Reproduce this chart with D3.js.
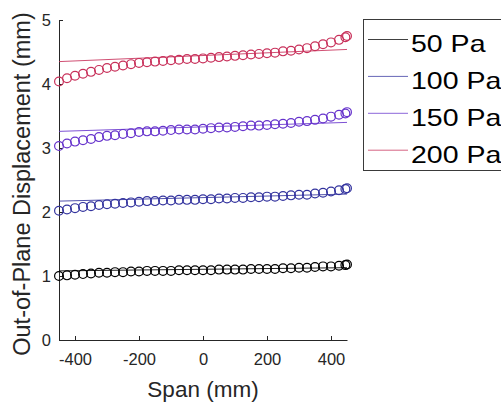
<!DOCTYPE html>
<html>
<head>
<meta charset="utf-8">
<script src="https://cdn.jsdelivr.net/npm/d3@7"></script>
<style>
  html, body { margin: 0; padding: 0; background: #fff; overflow: hidden; }
  svg { display: block; font-family: "Liberation Sans", Arial, sans-serif; }
</style>
</head>
<body>
<svg id="chart" width="501" height="407"></svg>
<script>
// ---- data ----
const spanMm = [-450,-425,-400,-375,-350,-325,-300,-275,-250,-225,-200,-175,-150,-125,-100,-75,-50,-25,0,25,50,75,100,125,150,175,200,225,250,275,300,325,350,375,400,425,445,450];

const seriesNames = ["50 Pa", "100 Pa", "150 Pa", "200 Pa"];

const disp50 = [1.00,1.01,1.02,1.03,1.04,1.05,1.05,1.06,1.06,1.07,1.07,1.08,1.08,1.08,1.08,1.09,1.09,1.09,1.09,1.09,1.10,1.10,1.10,1.10,1.11,1.11,1.11,1.11,1.12,1.12,1.13,1.13,1.14,1.15,1.15,1.16,1.17,1.18];
const disp100 = [2.02,2.04,2.06,2.08,2.09,2.11,2.12,2.13,2.14,2.15,2.16,2.17,2.17,2.18,2.18,2.19,2.19,2.19,2.20,2.20,2.21,2.21,2.22,2.22,2.23,2.23,2.24,2.24,2.25,2.26,2.27,2.27,2.29,2.30,2.32,2.34,2.36,2.37];
const disp150 = [3.03,3.07,3.10,3.12,3.14,3.17,3.19,3.20,3.22,3.23,3.25,3.26,3.26,3.27,3.28,3.29,3.29,3.29,3.30,3.31,3.32,3.32,3.33,3.34,3.35,3.35,3.36,3.37,3.38,3.39,3.41,3.42,3.44,3.46,3.49,3.52,3.54,3.56];
const disp200 = [4.04,4.09,4.13,4.16,4.19,4.22,4.25,4.27,4.29,4.31,4.33,4.34,4.35,4.36,4.37,4.38,4.39,4.39,4.40,4.41,4.42,4.43,4.44,4.45,4.46,4.47,4.48,4.49,4.51,4.52,4.54,4.56,4.59,4.62,4.65,4.69,4.73,4.75];

// fitted (model) lines, evaluated at the span ends
const fitSpan = [-450, 450];
const fit50 = [1.08, 1.13];
const fit100 = [2.17, 2.28];
const fit150 = [3.26, 3.40];
const fit200 = [4.35, 4.54];

const xTicks = [-400, -200, 0, 200, 400];
const yTicks = [0, 1, 2, 3, 4, 5];

const colors = ["#000000", "#33339e", "#6633cc", "#c8305a"];

// ---- drawing ----
const svg = d3.select("#chart");
const x = d3.scaleLinear().domain([-450, 450]).range([59, 347]);
const y = d3.scaleLinear().domain([0, 5]).range([340, 20]);

const measured = [disp50, disp100, disp150, disp200];
const fits = [fit50, fit100, fit150, fit200];

const axisColor = "#262626";

// axes
const gx = svg.append("g").attr("transform", "translate(0,340)")
  .call(d3.axisBottom(x).tickValues(xTicks).tickSizeInner(-4).tickSizeOuter(0).tickPadding(13).tickFormat(d3.format("d")));
const gy = svg.append("g").attr("transform", "translate(59,0)")
  .call(d3.axisLeft(y).tickValues(yTicks).tickSizeInner(-4).tickSizeOuter(0).tickPadding(8).tickFormat(d3.format("d")));
[gx, gy].forEach(g => {
  g.select(".domain").attr("stroke", axisColor).attr("stroke-width", 1);
  g.selectAll(".tick line").attr("stroke", axisColor);
  g.selectAll(".tick text").attr("fill", axisColor).style("font-size", "16.5px")
    .style("font-family", "'Liberation Sans', Arial, sans-serif");
});
gx.selectAll(".tick text").text(d => d < 0 ? "-" + Math.abs(d) : d);

// fit lines
const line = d3.line().x(d => x(d[0])).y(d => y(d[1]));
fits.forEach((f, i) => {
  svg.append("path")
    .datum(fitSpan.map((s, k) => [s, f[k]]))
    .attr("d", line)
    .attr("fill", "none")
    .attr("stroke", colors[i])
    .attr("stroke-opacity", 0.85)
    .attr("stroke-width", 1);
});

// measured circles
measured.forEach((vals, i) => {
  svg.append("g").selectAll("circle")
    .data(vals.map((v, k) => [spanMm[k], v]))
    .join("circle")
    .attr("cx", d => x(d[0]))
    .attr("cy", d => y(d[1]))
    .attr("r", 4.4)
    .attr("fill", "none")
    .attr("stroke", colors[i])
    .attr("stroke-width", 1.2);
});

// axis labels
svg.append("text")
  .attr("x", 203).attr("y", 397)
  .attr("text-anchor", "middle")
  .attr("fill", axisColor)
  .style("font-size", "22.5px")
  .text("Span (mm)");

svg.append("text")
  .attr("transform", "translate(30,184) rotate(-90)")
  .attr("text-anchor", "middle")
  .attr("fill", axisColor)
  .style("font-size", "23.5px")
  .text("Out-of-Plane Displacement (mm)");

// legend
const leg = svg.append("g");
leg.append("rect")
  .attr("x", 363.5).attr("y", 19.5)
  .attr("width", 160).attr("height", 151)
  .attr("fill", "#fff").attr("stroke", "#3a3a3a").attr("stroke-width", 1);
seriesNames.forEach((name, i) => {
  const cy = 39.5 + i * 36.9;
  leg.append("line")
    .attr("x1", 368).attr("x2", 408)
    .attr("y1", cy).attr("y2", cy)
    .attr("stroke", colors[i]).attr("stroke-opacity", 0.75).attr("stroke-width", 1);
  leg.append("text")
    .attr("transform", `translate(411,${cy + 12.5}) scale(1.24,1)`)
    .attr("fill", "#000")
    .style("font-size", "23px")
    .text(name);
});
</script>
</body>
</html>
